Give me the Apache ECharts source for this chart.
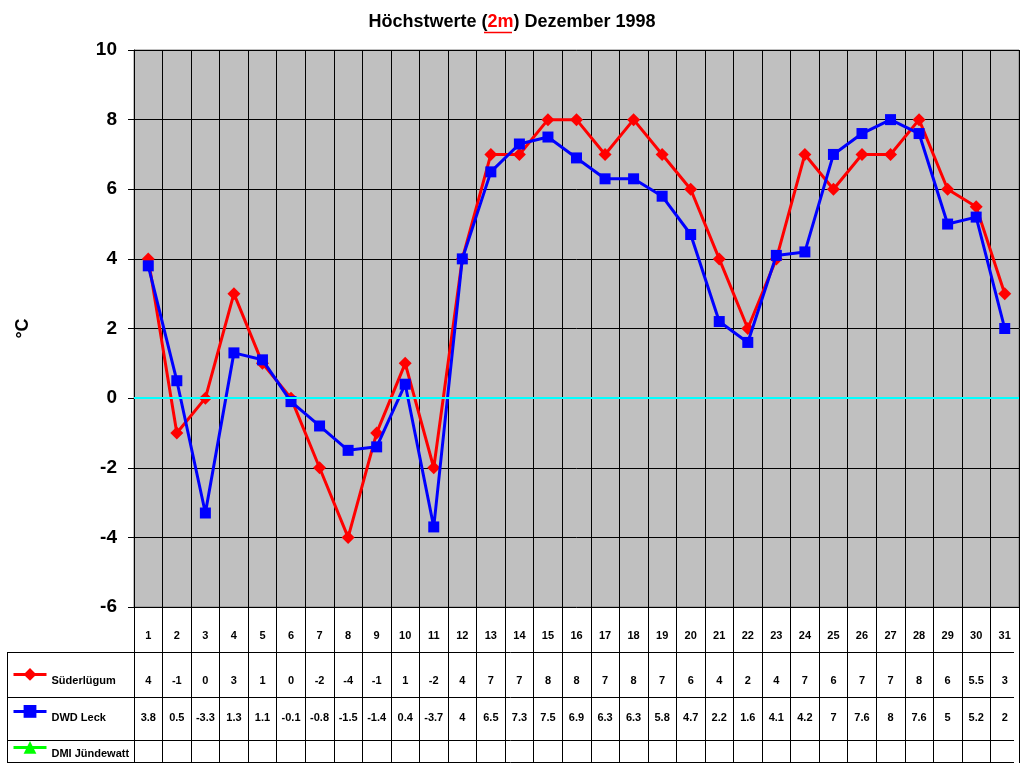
<!DOCTYPE html>
<html>
<head>
<meta charset="utf-8">
<script src="https://cdn.jsdelivr.net/npm/echarts@6/dist/echarts.min.js"></script>
<style>
  html, body { margin: 0; padding: 0; background: #fff; }
  #chart { width: 1024px; height: 768px; }
</style>
</head>
<body>
<div id="chart"></div>
<script>
// Tage im Dezember 1998
var days = [];
for (var d = 1; d <= 31; d++) days.push(String(d));

// Höchstwerte in °C
var suederluegum = [4, -1, 0, 3, 1, 0, -2, -4, -1, 1, -2, 4, 7, 7, 8, 8, 7, 8, 7, 6, 4, 2, 4, 7, 6, 7, 7, 8, 6, 5.5, 3];
var dwdLeck = [3.8, 0.5, -3.3, 1.3, 1.1, -0.1, -0.8, -1.5, -1.4, 0.4, -3.7, 4, 6.5, 7.3, 7.5, 6.9, 6.3, 6.3, 5.8, 4.7, 2.2, 1.6, 4.1, 4.2, 7, 7.6, 8, 7.6, 5, 5.2, 2];
var dmiJuendewatt = [];

var yTicks = [-6, -4, -2, 0, 2, 4, 6, 8, 10];

var font = 'Liberation Sans, Arial, sans-serif';
var plotLeft = 134, plotRight = 5, plotTop = 50, plotBottom = 161;

var myChart = echarts.init(document.getElementById('chart'));

function rowAxis(values, offset) {
    return {
        type: 'category', gridIndex: 0, data: days, position: 'bottom', offset: offset,
        axisLine: { show: false }, axisTick: { show: false }, splitLine: { show: false },
        axisLabel: {
            interval: 0, margin: 23, color: '#000', fontFamily: font, fontWeight: 'bold', fontSize: 11,
            formatter: function (v, i) { return values[i] === undefined ? '' : String(values[i]); }
        }
    };
}

function legendAt(name, top) {
    return {
        data: [name], left: 7, top: top, orient: 'vertical',
        itemWidth: 33, itemHeight: 16, itemGap: 0, selectedMode: false,
        lineStyle: { width: 3 },
        formatter: '{t|{name}}',
        textStyle: {
            color: '#000', fontFamily: font, fontWeight: 'bold', fontSize: 11,
            rich: { t: { color: '#000', fontFamily: font, fontWeight: 'bold', fontSize: 11, padding: [14, 0, 0, 0] } }
        }
    };
}

var option = {
    animation: false,
    backgroundColor: '#fff',
    title: {
        text: '{a|Höchstwerte (}{b|2m}{a|) Dezember 1998}',
        left: 'center', top: 8,
        textStyle: {
            rich: {
                a: { fontFamily: font, fontWeight: 'bold', fontSize: 18, color: '#000' },
                b: { fontFamily: font, fontWeight: 'bold', fontSize: 18, color: '#ff0000' }
            }
        }
    },
    legend: [
        legendAt('Süderlügum', 663),
        legendAt('DWD Leck', 700),
        legendAt('DMI Jündewatt', 736)
    ],
    grid: [
        { left: plotLeft, right: plotRight, top: plotTop, bottom: plotBottom, show: true,
          backgroundColor: '#c0c0c0', borderColor: '#808080', borderWidth: 1 },
        { left: plotLeft, right: plotRight, top: 607, bottom: 5, show: false }
    ],
    xAxis: [
        {
            type: 'category', gridIndex: 0, data: days, position: 'bottom',
            axisLine: { show: true, lineStyle: { color: '#000', width: 1 } },
            axisTick: { show: false },
            splitLine: { show: true, interval: 0, lineStyle: { color: '#000', width: 1 } },
            axisLabel: { interval: 0, margin: 23, color: '#000', fontFamily: font, fontWeight: 'bold', fontSize: 11 }
        },
        rowAxis(suederluegum, 45),
        rowAxis(dwdLeck, 82),
        {
            type: 'category', gridIndex: 1, data: days,
            axisLine: { show: false }, axisTick: { show: false }, axisLabel: { show: false },
            splitLine: { show: true, interval: 0, lineStyle: { color: '#000', width: 1 } }
        }
    ],
    yAxis: [
        {
            type: 'value', gridIndex: 0, min: yTicks[0], max: yTicks[yTicks.length - 1], interval: 2,
            name: '°C', nameLocation: 'middle', nameGap: 102, nameRotate: 90,
            nameTextStyle: { color: '#000', fontFamily: font, fontWeight: 'bold', fontSize: 18 },
            axisLine: { show: true, lineStyle: { color: '#000', width: 1 } },
            axisTick: { show: true, length: 6, inside: false, lineStyle: { color: '#000' } },
            splitLine: { show: true, lineStyle: { color: '#000', width: 1 } },
            axisLabel: { margin: 17, color: '#000', fontFamily: font, fontWeight: 'bold', fontSize: 19 }
        },
        { type: 'value', gridIndex: 1, show: false, min: 0, max: 1, splitLine: { show: false } }
    ],
    series: [
        {
            name: 'Nulllinie', type: 'line', data: [], z: 1, silent: true,
            markLine: {
                silent: true, symbol: 'none', label: { show: false },
                lineStyle: { color: '#00ffff', width: 2, type: 'solid' },
                data: [{ yAxis: 0 }]
            }
        },
        {
            name: 'Süderlügum', type: 'line', data: suederluegum, z: 3,
            symbol: 'diamond', symbolSize: 13,
            itemStyle: { color: '#ff0000' },
            lineStyle: { color: '#ff0000', width: 3 }
        },
        {
            name: 'DWD Leck', type: 'line', data: dwdLeck, z: 4,
            symbol: 'rect', symbolSize: 11,
            itemStyle: { color: '#0000ff' },
            lineStyle: { color: '#0000ff', width: 3 }
        },
        {
            name: 'DMI Jündewatt', type: 'line', data: dmiJuendewatt,
            symbol: 'triangle', symbolSize: 12,
            itemStyle: { color: '#00ff00' },
            lineStyle: { color: '#00ff00', width: 3 }
        }
    ],
    graphic: [
        // Tabellenlinien und Legendenkasten
        { type: 'line', silent: true, shape: { x1: 7, y1: 652.5, x2: 1014, y2: 652.5 }, style: { stroke: '#000', lineWidth: 1 } },
        { type: 'line', silent: true, shape: { x1: 7, y1: 697.5, x2: 1014, y2: 697.5 }, style: { stroke: '#000', lineWidth: 1 } },
        { type: 'line', silent: true, shape: { x1: 7, y1: 740.5, x2: 1014, y2: 740.5 }, style: { stroke: '#000', lineWidth: 1 } },
        { type: 'line', silent: true, shape: { x1: 7, y1: 762.5, x2: 1014, y2: 762.5 }, style: { stroke: '#000', lineWidth: 1 } },
        { type: 'line', silent: true, shape: { x1: 7.5, y1: 652, x2: 7.5, y2: 763 }, style: { stroke: '#000', lineWidth: 1 } },
        { type: 'line', silent: true, shape: { x1: 134.5, y1: 607, x2: 134.5, y2: 763 }, style: { stroke: '#000', lineWidth: 1 } },
        // Unterstreichung "2m"
        { type: 'line', silent: true, shape: { x1: 484, y1: 32.5, x2: 512, y2: 32.5 }, style: { stroke: '#ff0000', lineWidth: 1.5 } }
    ]
};

myChart.setOption(option);
</script>
</body>
</html>
